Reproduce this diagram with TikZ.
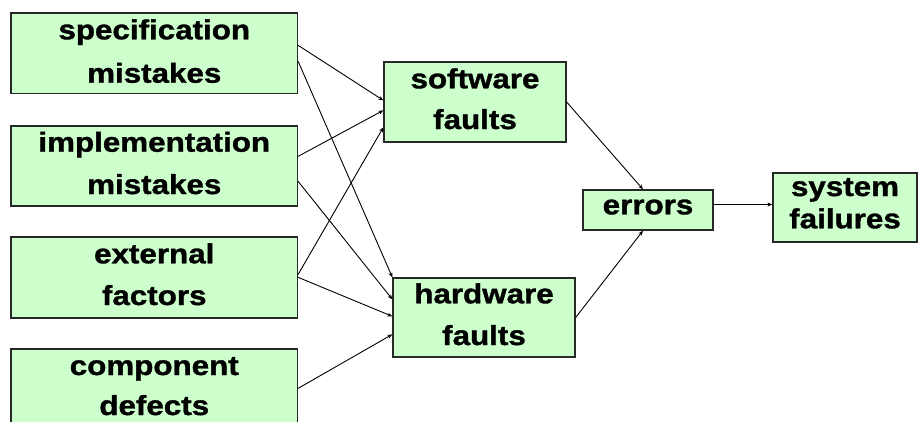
\documentclass[tikz,border=0pt]{standalone}
\usepackage{graphicx}
\usepackage{fontspec}
\setmainfont{Liberation Sans}
\newfontfamily\boxfont{Liberation Sans Bold}[FakeBold=1.2]
\usetikzlibrary{arrows.meta}
\definecolor{boxfill}{RGB}{204,255,204}
\definecolor{boxline}{RGB}{40,40,40}
\newcommand{\sxt}[1]{\scalebox{1.14}[1]{#1}}
\tikzset{
  box/.style={draw=boxline, line width=1.3pt, fill=boxfill, inner sep=0pt},
  txt/.style={anchor=base, inner sep=0pt, font=\fontsize{27.5}{33}\selectfont\boxfont},
  arr/.style={draw=black, line width=0.9pt, -{Stealth[length=5pt,width=4pt]}}
}
\begin{document}
\begin{tikzpicture}[x=1pt,y=-1pt]
\useasboundingbox (0,0) rectangle (918,421);
% boxes
\node[box, minimum width=286.5pt, minimum height=80.5pt] (spec) at (154.25,53.25) {};
\node[box, minimum width=286.5pt, minimum height=80pt] (impl) at (154.25,166) {};
\node[box, minimum width=286.5pt, minimum height=81pt] (ext) at (154.25,277.5) {};
\node[box, minimum width=286.5pt, minimum height=80pt] (comp) at (154.25,389) {};
\node[box, minimum width=182pt, minimum height=80pt] (sw) at (475,102) {};
\node[box, minimum width=182pt, minimum height=79pt] (hw) at (484,317.5) {};
\node[box, minimum width=130pt, minimum height=40pt] (err) at (648,210) {};
\node[box, minimum width=144pt, minimum height=69pt] (sys) at (845,207.5) {};
% texts
\node[txt] (spec1) at (154.25,39.3) {\sxt{specification}};
\node[txt] (spec2) at (154.25,82.7) {\sxt{mistakes}};
\node[txt] (impl1) at (154.25,151.7) {\sxt{implementation}};
\node[txt] (impl2) at (154.25,194) {\sxt{mistakes}};
\node[txt] (ext1) at (154.25,263.3) {\sxt{external}};
\node[txt] (ext2) at (154.25,305) {\sxt{factors}};
\node[txt] (comp1) at (154.25,375) {\sxt{component}};
\node[txt] (comp2) at (154.25,415) {\sxt{defects}};
\node[txt] (sw1) at (475,88.3) {\sxt{software}};
\node[txt] (sw2) at (475,129) {\sxt{faults}};
\node[txt] (hw1) at (484,303.3) {\sxt{hardware}};
\node[txt] (hw2) at (484,345) {\sxt{faults}};
\node[txt] (err1) at (648,214.3) {\sxt{errors}};
\node[txt] (sys1) at (845,196) {\sxt{system}};
\node[txt] (sys2) at (845,228.3) {\sxt{failures}};
% connectors
\draw[arr] ([yshift=-33pt]spec.north east) -- ([yshift=-39pt]sw.north west);
\draw[arr] ([yshift=-49pt]spec.north east) -- (hw.north west);
\draw[arr] ([yshift=-31pt]impl.north east) -- ([yshift=-49pt]sw.north west);
\draw[arr] ([yshift=-56pt]impl.north east) -- ([yshift=-22pt]hw.north west);
\draw[arr] ([yshift=-38pt]ext.north east) -- ([yshift=-66pt]sw.north west);
\draw[arr] ([yshift=-41pt]ext.north east) -- ([yshift=-39pt]hw.north west);
\draw[arr] ([yshift=-40pt]comp.north east) -- ([yshift=-57pt]hw.north west);
\draw[arr] (sw.east) -- ([xshift=-5pt]err.north);
\draw[arr] (hw.east) -- ([xshift=-5pt]err.south);
\coordinate (e1) at ([yshift=5.5pt]err.east);
\draw[arr] (e1) -- (e1 -| sys.west);
\end{tikzpicture}
\end{document}
